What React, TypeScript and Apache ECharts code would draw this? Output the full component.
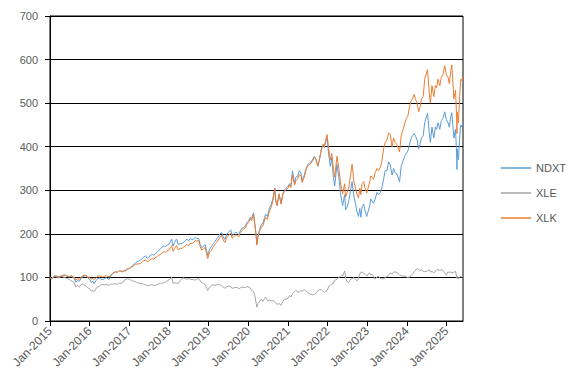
import React, { useEffect, useRef } from "react";
import * as echarts from "echarts";

const dates: string[] = [
  "2015-01-01","2015-01-15","2015-02-01","2015-02-15","2015-03-01","2015-03-15","2015-04-01","2015-04-15","2015-05-01","2015-05-15",
  "2015-06-01","2015-06-15","2015-07-01","2015-07-15","2015-08-01","2015-08-15","2015-08-25","2015-09-10","2015-09-28","2015-10-15",
  "2015-11-01","2015-11-15","2015-12-01","2015-12-15","2016-01-01","2016-01-15","2016-02-01","2016-02-11","2016-03-01","2016-03-15",
  "2016-04-01","2016-04-15","2016-05-01","2016-05-15","2016-06-01","2016-06-27","2016-07-15","2016-08-01","2016-08-15","2016-09-01",
  "2016-09-15","2016-10-01","2016-10-15","2016-11-01","2016-11-15","2016-12-01","2016-12-15","2017-01-01","2017-01-15","2017-02-01",
  "2017-02-15","2017-03-01","2017-03-15","2017-04-01","2017-04-15","2017-05-01","2017-05-15","2017-06-01","2017-06-15","2017-07-01",
  "2017-07-15","2017-08-01","2017-08-15","2017-09-01","2017-09-15","2017-10-01","2017-10-15","2017-11-01","2017-11-15","2017-12-01",
  "2017-12-15","2018-01-01","2018-01-15","2018-01-26","2018-02-08","2018-02-20","2018-03-12","2018-03-28","2018-04-15","2018-05-01",
  "2018-05-15","2018-06-01","2018-06-15","2018-07-01","2018-07-15","2018-08-01","2018-08-15","2018-09-01","2018-09-15","2018-10-01",
  "2018-10-15","2018-10-29","2018-11-15","2018-12-01","2018-12-24","2019-01-10","2019-01-25","2019-02-15","2019-03-01","2019-03-15",
  "2019-04-01","2019-04-15","2019-05-01","2019-05-15","2019-06-01","2019-06-15","2019-07-01","2019-07-25","2019-08-05","2019-08-20",
  "2019-09-10","2019-09-25","2019-10-05","2019-10-20","2019-11-05","2019-11-20","2019-12-05","2019-12-20","2020-01-05","2020-01-20",
  "2020-01-31","2020-02-19","2020-03-02","2020-03-11","2020-03-20","2020-03-31","2020-04-15","2020-04-29","2020-05-15","2020-06-01",
  "2020-06-08","2020-06-26","2020-07-15","2020-08-01","2020-08-15","2020-09-02","2020-09-10","2020-09-23","2020-10-12","2020-10-30",
  "2020-11-15","2020-12-01","2020-12-15","2021-01-01","2021-01-15","2021-01-28","2021-02-12","2021-03-04","2021-03-15","2021-04-01",
  "2021-04-15","2021-05-01","2021-05-12","2021-06-01","2021-06-15","2021-07-01","2021-07-15","2021-08-01","2021-08-15","2021-09-01",
  "2021-09-15","2021-10-04","2021-10-20","2021-11-05","2021-11-22","2021-12-01","2021-12-15","2021-12-28","2022-01-10","2022-01-27",
  "2022-02-09","2022-02-24","2022-03-08","2022-03-29","2022-04-15","2022-04-29","2022-05-12","2022-05-20","2022-06-08","2022-06-16",
  "2022-07-01","2022-07-15","2022-08-01","2022-08-15","2022-09-01","2022-09-15","2022-09-30","2022-10-13","2022-10-25","2022-11-03",
  "2022-11-15","2022-11-30","2022-12-15","2022-12-28","2023-01-10","2023-01-25","2023-02-02","2023-02-15","2023-03-01","2023-03-15",
  "2023-04-01","2023-04-15","2023-05-01","2023-05-15","2023-06-01","2023-06-15","2023-07-01","2023-07-18","2023-08-01","2023-08-18",
  "2023-09-01","2023-09-15","2023-10-01","2023-10-26","2023-11-10","2023-11-28","2023-12-15","2023-12-28","2024-01-10","2024-01-25",
  "2024-02-08","2024-02-22","2024-03-08","2024-03-20","2024-04-05","2024-04-19","2024-05-01","2024-05-15","2024-05-31","2024-06-14",
  "2024-07-10","2024-07-25","2024-08-05","2024-08-20","2024-09-06","2024-09-20","2024-10-01","2024-10-15","2024-10-31","2024-11-15",
  "2024-11-29","2024-12-16","2024-12-31","2025-01-15","2025-01-27","2025-02-10","2025-02-19","2025-03-10","2025-03-25","2025-04-04",
  "2025-04-08","2025-04-09","2025-04-21","2025-05-02","2025-05-12","2025-05-22","2025-06-02"
];

const ndxt: number[] = [
  100,98,101,104,103,101,102,103,104,105,
  103,102,101,103,100,98,89,93,91,98,
  102,104,103,99,96,89,91,86,93,97,
  99,96,95,97,100,95,104,108,112,113,
  112,116,115,113,117,116,120,121,124,127,
  131,134,136,138,140,144,147,149,144,146,
  151,153,151,155,158,162,166,170,172,171,
  174,176,183,188,172,180,188,175,178,177,
  181,184,188,184,189,187,188,192,189,190,
  176,168,172,175,150,165,170,178,182,188,
  193,200,203,193,187,198,203,209,195,200,
  204,201,198,207,213,215,217,226,230,238,
  235,248,222,205,178,195,210,220,225,238,
  245,240,260,268,280,305,275,265,290,270,
  292,300,305,308,315,310,345,315,330,332,
  345,340,322,335,348,358,362,365,370,378,
  372,355,372,395,405,398,410,420,385,355,
  375,330,310,360,330,295,275,265,290,255,
  262,275,300,320,285,270,250,240,258,238,
  262,268,250,240,252,265,280,275,270,280,
  295,290,295,305,325,345,345,365,358,335,
  350,340,338,320,355,368,380,385,390,405,
  418,425,430,425,415,395,405,420,425,455,
  477,435,410,445,420,445,440,455,440,460,
  465,480,462,455,445,470,478,420,440,385,
  348,395,370,420,450,445,455
];

const xle: number[] = [
  100,97,100,102,101,99,100,103,101,100,
  98,97,95,92,90,87,78,82,78,84,
  85,82,80,76,74,69,70,67,75,78,
  80,83,84,83,84,82,85,84,86,85,
  84,87,86,88,94,95,97,96,94,92,
  91,90,88,87,86,86,84,83,81,82,
  83,83,81,82,84,85,86,87,88,90,
  92,94,98,100,86,88,87,86,93,97,
  99,97,96,97,96,95,95,94,96,98,
  92,88,86,83,70,78,81,83,82,83,
  84,83,81,78,75,78,80,79,75,76,
  77,77,74,76,78,77,77,79,78,76,
  70,68,58,45,32,40,45,50,45,52,
  55,47,48,46,47,44,42,38,40,36,
  45,50,50,52,58,55,62,68,70,67,
  66,70,68,72,69,66,63,61,60,61,
  63,70,72,72,68,66,68,70,78,83,
  85,86,93,96,100,102,105,103,115,98,
  90,88,96,97,100,96,92,98,108,112,
  112,110,106,103,108,110,106,107,102,96,
  101,103,98,97,97,100,102,105,110,108,
  112,113,111,106,104,103,104,101,100,101,
  104,108,113,116,121,118,116,117,114,113,
  115,118,112,114,110,115,117,118,116,118,
  116,110,105,113,111,113,110,112,114,103,
  97,103,97,99,103,101,102
];

const xlk: number[] = [
  100,97,100,103,103,101,102,103,105,106,
  104,103,102,104,101,100,94,97,95,101,
  104,105,104,101,100,96,98,95,100,103,
  104,102,101,102,104,101,106,109,112,112,
  112,115,114,113,115,115,120,120,123,125,
  128,130,131,131,132,136,138,140,136,138,
  141,143,142,146,148,151,153,157,159,158,
  161,163,168,173,160,166,173,163,167,166,
  170,172,175,173,178,178,180,185,183,185,
  172,163,166,169,143,158,162,171,176,180,
  186,193,196,186,180,190,196,202,190,193,
  198,196,193,203,208,211,213,222,226,235,
  230,245,220,203,174,192,206,215,218,232,
  238,233,253,262,275,305,280,265,292,268,
  290,298,301,304,312,306,335,312,322,326,
  336,334,318,330,345,356,358,362,367,375,
  372,356,373,393,405,400,415,428,398,370,
  385,348,330,378,350,320,300,292,315,285,
  295,305,335,360,320,305,290,282,305,290,
  315,320,302,294,306,320,333,330,325,340,
  350,345,352,365,395,410,415,432,428,400,
  420,410,405,388,425,440,455,465,470,490,
  505,510,520,510,500,480,490,510,515,555,
  577,525,500,540,515,540,535,555,540,560,
  565,586,565,560,545,575,588,510,530,470,
  430,480,455,515,555,552,562
];

const yTicks: number[] = [0, 100, 200, 300, 400, 500, 600, 700];

function toYear(d: string): number {
  const [y, m, day] = d.split("-").map(Number);
  const start = Date.UTC(y, 0, 1);
  const end = Date.UTC(y + 1, 0, 1);
  const t = Date.UTC(y, m - 1, day);
  return y + (t - start) / (end - start);
}

export default function App() {
  const ref = useRef<HTMLDivElement>(null);
  useEffect(() => {
    if (!ref.current) return;
    const chart = echarts.init(ref.current, undefined, { renderer: "svg" });
    const xs = dates.map(toYear);
    const mk = (vals: number[]) => vals.map((v, i) => [xs[i], v]);
    const xMax = xs[xs.length - 1];
    const font = "'Liberation Sans', Arial, sans-serif";
    chart.setOption({
      animation: false,
      backgroundColor: "#ffffff",
      grid: {
        left: 50,
        right: 111,
        top: 16,
        bottom: 64,
        show: true,
        borderColor: "#000000",
        borderWidth: 1,
        backgroundColor: "transparent",
      },
      legend: {
        orient: "vertical",
        left: 496,
        top: 156,
        icon: "rect",
        itemWidth: 30,
        itemHeight: 1.5,
        itemGap: 11,
        textStyle: { color: "#595959", fontSize: 11, fontFamily: font, lineHeight: 14 },
        data: ["NDXT", "XLE", "XLK"],
      },
      xAxis: {
        type: "value",
        min: 2015,
        max: xMax,
        interval: 1,
        axisLine: { show: true, lineStyle: { color: "#000000", width: 1 } },
        axisTick: { show: true, length: 5, lineStyle: { color: "#000000" } },
        splitLine: { show: false },
        axisLabel: {
          rotate: 45,
          margin: 8,
          color: "#595959",
          fontSize: 12,
          fontFamily: font,
          showMaxLabel: false,
          formatter: (v: number) => "Jan-" + Math.round(v),
        },
      },
      yAxis: {
        type: "value",
        min: 0,
        max: 700,
        interval: 100,
        axisLine: { show: true, lineStyle: { color: "#000000", width: 1 } },
        axisTick: { show: true, length: 5, lineStyle: { color: "#000000" } },
        splitLine: { show: true, lineStyle: { color: "#000000", width: 1 } },
        axisLabel: {
          margin: 12,
          color: "#595959",
          fontSize: 11,
          fontFamily: font,
          formatter: (v: number) => (yTicks.includes(v) ? String(v) : ""),
        },
      },
      series: [
        {
          name: "NDXT",
          type: "line",
          data: mk(ndxt),
          symbol: "none",
          lineStyle: { color: "#5B9BD5", width: 1 },
          itemStyle: { color: "#5B9BD5" },
          z: 3,
        },
        {
          name: "XLE",
          type: "line",
          data: mk(xle),
          symbol: "none",
          lineStyle: { color: "#A5A5A5", width: 1 },
          itemStyle: { color: "#A5A5A5" },
          z: 2,
        },
        {
          name: "XLK",
          type: "line",
          data: mk(xlk),
          symbol: "none",
          lineStyle: { color: "#ED7D31", width: 1 },
          itemStyle: { color: "#ED7D31" },
          z: 4,
        },
      ],
    });
    return () => chart.dispose();
  }, []);
  return <div ref={ref} style={{ width: 574, height: 385, position: "absolute", left: 0, top: 0 }} />;
}
